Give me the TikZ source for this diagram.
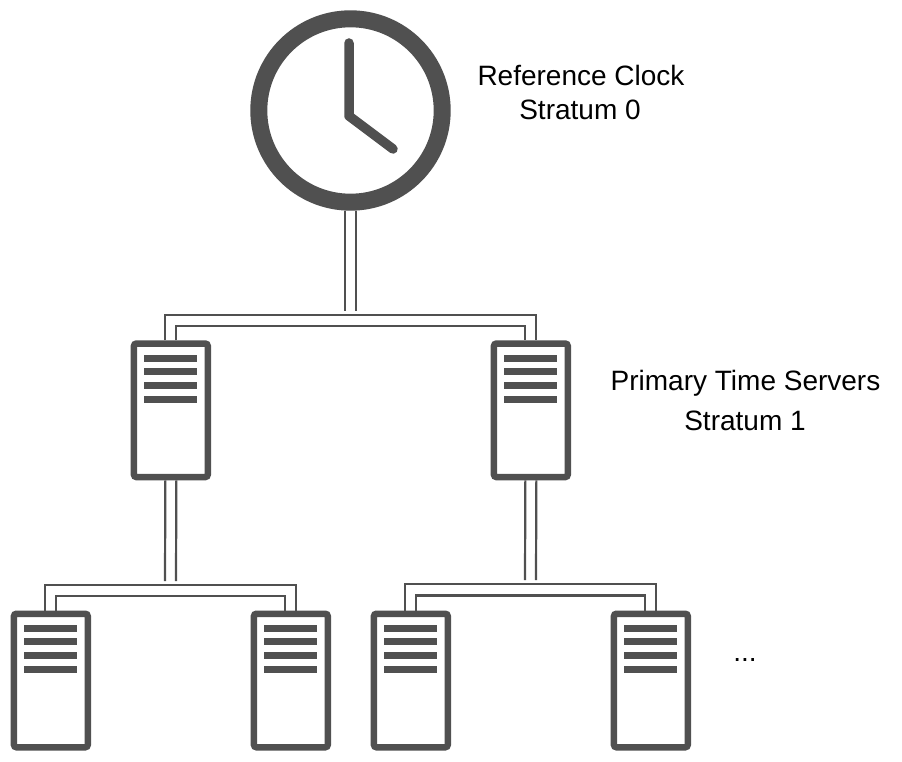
\documentclass[tikz,border=0pt]{standalone}
\usepackage{fontspec}
\setmainfont{Liberation Sans}
\usetikzlibrary{calc}
\definecolor{ink}{HTML}{505050}
\tikzset{
  serverbox/.style={draw=ink,line width=6.5pt,rounded corners=2.5pt,fill=white,minimum width=73.8pt,minimum height=133.5pt,inner sep=0pt},
  clockface/.style={circle,draw=ink,line width=17pt,minimum size=183.4pt,inner sep=0pt,fill=white},
  wire/.style={draw=ink,line width=2.2pt},
  hand/.style={draw=ink,line width=9.5pt,line cap=round,line join=round},
  lbl/.style={text=black,font=\fontsize{28}{32}\selectfont,inner sep=0pt,anchor=base}
}
\newcommand{\serverat}[3]{%
  \node[serverbox] (#1) at (#2,#3) {};
  \foreach \dy in {-55.5,-42.1,-28.1,-14.8}{
    \fill[ink] ($(#1.center)+(-26.6,\dy)$) rectangle ++(53.2,7);
  }
}
\newcommand{\linkpair}[4]{% child left, child right, upper y, lower y
  \coordinate (yu) at (0,#3);
  \coordinate (yl) at (0,#4);
  \coordinate (aa) at ($(#1.north)+(-5.5,0)$);
  \coordinate (ab) at ($(#1.north)+(5.5,0)$);
  \coordinate (ba) at ($(#2.north)+(-5.5,0)$);
  \coordinate (bb) at ($(#2.north)+(5.5,0)$);
  \draw[wire] (aa) -- (aa |- yu) -- (bb |- yu) -- (bb);
  \draw[wire] (ab) -- (ab |- yl) -- (ba |- yl) -- (ba);
}
\begin{document}
\begin{tikzpicture}[x=1pt,y=-1pt]
\useasboundingbox[fill=white] (0,0) rectangle (902,762);
% clock
\node[clockface] (clock) at (350.5,110.5) {};
\coordinate (handtop) at (349,43);
\coordinate (handelbow) at (349,116);
\coordinate (handend) at (393,149);
\draw[hand] (handtop) -- (handelbow) -- (handend);
% servers
\serverat{sa}{170.85}{410.3}
\serverat{sb}{530.85}{410.3}
\serverat{ca}{50.85}{680.5}
\serverat{cb}{290.85}{680.5}
\serverat{cc}{410.85}{680.5}
\serverat{cd}{650.85}{680.5}
% trunk coordinates
\coordinate (trunk) at (350.5,311);
\coordinate (leftdrop) at (170.5,581);
\coordinate (rightdrop) at (530.5,580);
% vertical pairs
\foreach \s in {-5.5,5.5}{
  \draw[wire] ($(clock.south)+(\s,0)$) -- ($(trunk)+(\s,0)$);
  \draw[wire] ($(sa.south)+(\s,0)$) -- ($(leftdrop)+(\s,0)$);
  \draw[wire] ($(sb.south)+(\s,0)$) -- ($(rightdrop)+(\s,0)$);
}
\linkpair{sa}{sb}{315}{326}
\linkpair{ca}{cb}{585}{596}
\linkpair{cc}{cd}{584.3}{595.4}
% labels
\node[lbl] (l0a) at (581,86) {Reference Clock};
\node[lbl] (l0b) at (580,120) {Stratum 0};
\node[lbl] (l1a) at (745.5,390) {Primary Time Servers};
\node[lbl] (l1b) at (745,430) {Stratum 1};
\node[lbl] (more) at (745,661) {...};
\end{tikzpicture}
\end{document}
